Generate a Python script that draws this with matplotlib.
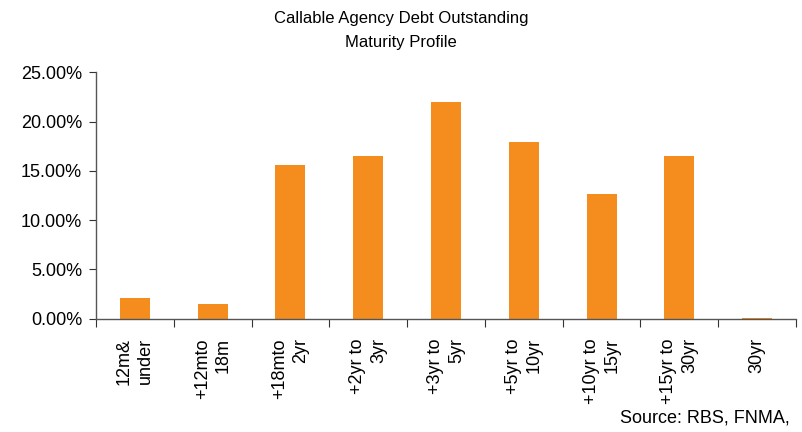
import numpy as np
import matplotlib.pyplot as plt
from matplotlib.ticker import FuncFormatter, FixedLocator

plt.rcParams["font.family"] = ["Liberation Sans", "DejaVu Sans"]

categories = ["12m&\nunder", "+12mto\n18m", "+18mto\n2yr", "+2yr to\n3yr",
              "+3yr to\n5yr", "+5yr to\n10yr", "+10yr to\n15yr", "+15yr to\n30yr",
              "30yr"]
share = [2.07, 1.46, 15.6, 16.55, 22.0, 17.9, 12.68, 16.55, 0.1]

fig = plt.figure(figsize=(8.02, 4.32), dpi=100)
ax = fig.add_axes([96 / 802, 113.3 / 432, 700 / 802, 246.4 / 432])

x = np.arange(len(categories))
ax.bar(x, share, width=0.385, color="#F58D1E", edgecolor="none")

ax.set_xlim(-0.5, len(categories) - 0.5)
ax.set_ylim(0, 25)
ax.set_yticks(np.arange(0, 25.01, 5))
ax.yaxis.set_major_formatter(FuncFormatter(lambda v, p: f"{v:.2f}%"))

# ticks sit between the categories, labels sit on the minor ticks
ax.xaxis.set_major_locator(FixedLocator(np.arange(-0.5, len(categories), 1.0)))
ax.xaxis.set_major_formatter(FuncFormatter(lambda v, p: ""))
ax.set_xticks(x, minor=True)
ax.set_xticklabels(categories, minor=True, rotation=90, ha="center", va="top",
                   multialignment="right", fontsize=13, linespacing=1.3)
ax.tick_params(axis="x", which="minor", length=0, pad=14)
ax.tick_params(axis="x", which="major", length=6, direction="out", color="#333333")
ax.tick_params(axis="y", length=5, direction="out", labelsize=13, color="#333333", pad=5)

for s in ["top", "right"]:
    ax.spines[s].set_visible(False)
for s in ["left", "bottom"]:
    ax.spines[s].set_color("#555555")
    ax.spines[s].set_linewidth(1.0)

fig.text(0.5, 1 - 31 / 432, "Callable Agency Debt Outstanding\nMaturity Profile",
         ha="center", va="center", fontsize=12, linespacing=1.75)
fig.text(790 / 802, 1 - 418 / 432, "Source: RBS, FNMA,", ha="right", va="center",
         fontsize=13)

fig.savefig("out.png", dpi=100)
